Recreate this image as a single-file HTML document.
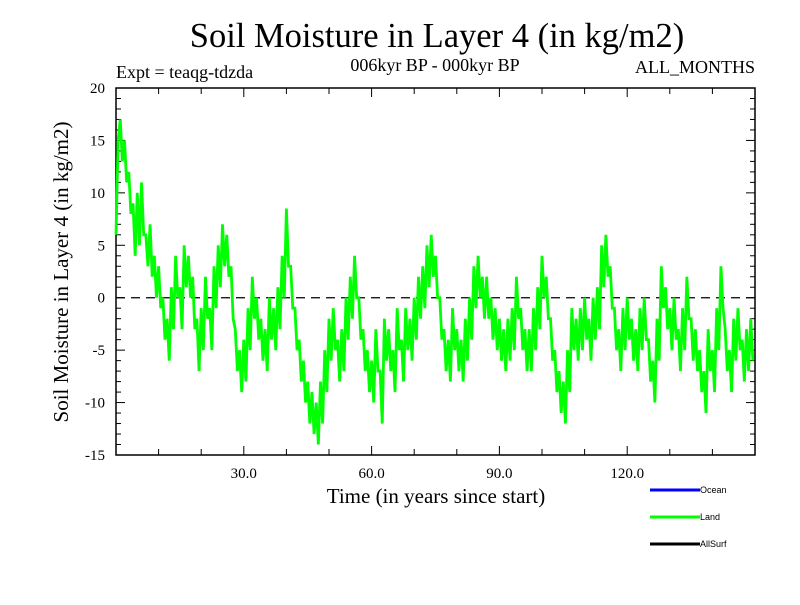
<!DOCTYPE html>
<html><head><meta charset="utf-8"><style>
body{margin:0;background:#fff}
svg text{font-family:"Liberation Serif",serif;fill:#000}
</style></head><body>
<svg id="chart" width="800" height="600" viewBox="0 0 800 600" xmlns="http://www.w3.org/2000/svg">
<rect width="800" height="600" fill="#fff"/>
<text x="437" y="47" font-size="34.5" text-anchor="middle">Soil Moisture in Layer 4 (in kg/m2)</text>
<text x="116" y="78" font-size="18">Expt = teaqg-tdzda</text>
<text x="435" y="71" font-size="18" text-anchor="middle">006kyr BP - 000kyr BP</text>
<text x="755" y="73" font-size="18" text-anchor="end">ALL_MONTHS</text>
<text x="0" y="0" font-size="21" text-anchor="middle" transform="translate(68,272) rotate(-90)">Soil Moisture in Layer 4 (in kg/m2)</text>
<text x="436" y="503" font-size="21" text-anchor="middle">Time (in years since start)</text>
<g id="axes"></g>
<g id="series"></g>
<g>
<line x1="650" y1="490" x2="700" y2="490" stroke="#0000ff" stroke-width="3"/>
<text x="700" y="493" font-size="9" style="font-family:'Liberation Sans',sans-serif">Ocean</text>
<line x1="650" y1="517" x2="700" y2="517" stroke="#00ff00" stroke-width="3"/>
<text x="700" y="520" font-size="9" style="font-family:'Liberation Sans',sans-serif">Land</text>
<line x1="650" y1="544" x2="700" y2="544" stroke="#000" stroke-width="3"/>
<text x="700" y="547" font-size="9" style="font-family:'Liberation Sans',sans-serif">AllSurf</text>
</g>
</svg>
<script>
const xTicks=[30,60,90,120];
const xTickLabels=["30.0","60.0","90.0","120.0"];
const yTicks=[-15,-10,-5,0,5,10,15,20];
const landValues=[
6,15, 17,13, 15,11, 12,8, 9,4, 10,5, 11,6, 6,3, 7,2, 4,0, 3,-1, 0,-4, -2,-6, 1,-3, 4,0, 1,-3, 5,1, 4,0, 2,-3, -2,-7,
-1,-5, 2,-2, -1,-5, 3,-1, 5,1, 7,3, 6,2, 3,-2, -3,-7, -5,-9, -4,-8, -1,-5, 2,-2, 0,-4, -2,-6, -3,-7, 0,-4, -1,-5, 1,-3, 4,0,
8.5,3, 3,-1, -1,-5, -4,-8, -6,-10, -8,-12, -9,-13, -10,-14, -8,-12, -5,-9, -2,-6, -1,-5, -4,-8, -3,-7, 0,-4, 2,-2, 4,0, 0,-4, -3,-7, -5,-9,
-6,-10, -3,-7, -7,-12, -2,-6, -3,-7, -5,-9, -1,-5, -4,-8, -1,-5, -2,-6, 0,-4, 2,-2, 3,-1, 5,1, 6,2, 4,0, 0,-4, -3,-7, -4,-8, -1,-5,
-3,-7, -4,-8, -2,-6, 0,-4, 3,-1, 4,0, 2,-2, 2,-2, 0,-4, -1,-5, -2,-6, -3,-7, -2,-6, -1,-5, 2,-2, -1,-5, -3,-7, -3,-7, -1,-5, 1,-3,
4,0, 2,-2, -2,-6, -5,-9, -7,-11, -8,-12, -5,-9, -1,-5, -2,-6, -1,-5, 0,-4, -2,-6, 0,-4, 1,-3, 5,1, 6,2, 3,-1, -1,-5, -3,-7, -1,-5,
0,-4, -2,-6, -3,-7, -1,-5, 0,-4, -4,-8, -6,-10, -2,-6, 3,-1, 1,-3, -1,-5, 0,-4, -3,-7, -1,-5, 2,-2, -2,-6, -3,-7, -5,-9, -7,-11, -3,-7,
-5,-9, -1,-5, 3,-1, -3,-7, -5,-9, -2,-6, -1,-5, -4,-8, -3,-7, -2,-6
];
const xMin=0,xMax=150,yMin=-15,yMax=20;
const L=116,R=755,T=88,B=455;
function sx(v){return L+(v-xMin)/(xMax-xMin)*(R-L);}
function sy(v){return B-(v-yMin)/(yMax-yMin)*(B-T);}
const NS="http://www.w3.org/2000/svg";
const axes=document.getElementById('axes');
function mk(tag,attrs,parent){const e=document.createElementNS(NS,tag);for(const k in attrs)e.setAttribute(k,attrs[k]);parent.appendChild(e);return e;}
const zl=mk('line',{x1:L,x2:R,y1:sy(0),y2:sy(0),stroke:'#000','stroke-width':1.3,'stroke-dasharray':'9,6'},axes);


const pts=landValues.map((v,i)=>sx(i*(xMax-xMin)/landValues.length)+','+sy(v)).join(' ');
const pl=mk('polyline',{points:pts,fill:'none',stroke:'#00ff00','stroke-width':2.8,'stroke-linejoin':'miter'},document.getElementById('series'));


const fr=mk('rect',{x:L,y:T,width:R-L,height:B-T,fill:'none',stroke:'#000','stroke-width':1.5},axes);


for(let v=yMin;v<=yMax;v++){const major=v%5===0;const len=major?9:5;
 mk('line',{x1:L,x2:L+len,y1:sy(v),y2:sy(v),stroke:'#000','stroke-width':1},axes);
 mk('line',{x1:R-len,x2:R,y1:sy(v),y2:sy(v),stroke:'#000','stroke-width':1},axes);}
yTicks.forEach(v=>{const t=mk('text',{x:105,y:sy(v)+5,'font-size':15,'text-anchor':'end'},axes);t.textContent=String(v);
 
 });
for(let v=10;v<xMax;v+=10){const major=v%30===0;const len=major?9:6;
 mk('line',{x1:sx(v),x2:sx(v),y1:B,y2:B-len,stroke:'#000','stroke-width':1},axes);
 mk('line',{x1:sx(v),x2:sx(v),y1:T,y2:T+len,stroke:'#000','stroke-width':1},axes);}
xTicks.forEach((v,i)=>{const t=mk('text',{x:sx(v),y:478,'font-size':15,'text-anchor':'middle'},axes);t.textContent=xTickLabels[i];
 
 });
</script>
</body></html>
